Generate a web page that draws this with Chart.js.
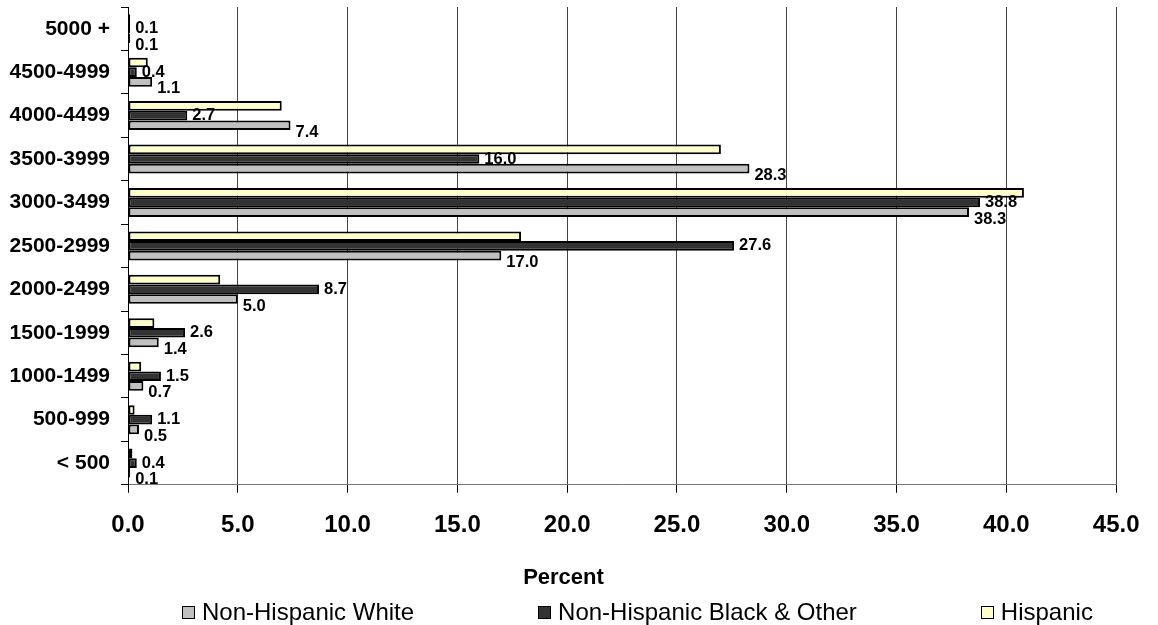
<!DOCTYPE html>
<html>
<head>
<meta charset="utf-8">
<script src="https://cdn.jsdelivr.net/npm/chart.js@4/dist/chart.umd.min.js"></script>
<style>
    body { margin: 0; background: #fff; font-family: 'Liberation Sans', Arial, sans-serif; }
    #wrap { position: relative; width: 1158px; height: 625px; }
    #legend {
        position: absolute; left: 182px; top: 598px;
        display: flex; align-items: center; gap: 124px;
        font-size: 24px; line-height: 28px; color: #000; white-space: nowrap;
    }
    #legend .item { display: flex; align-items: center; }
    #legend .box { width: 11px; height: 11px; border: 1.5px solid #000; margin-right: 7px; }
</style>
</head>
<body>
<div id="wrap">
    <canvas id="chart" width="1158" height="625"></canvas>
    <div id="legend"></div>
</div>
<script>
// --- Data ---
const categories = ['5000 +', '4500-4999', '4000-4499', '3500-3999', '3000-3499', '2500-2999',
                    '2000-2499', '1500-1999', '1000-1499', '500-999', '< 500'];
const whiteValues    = [0.1, 1.1, 7.4, 28.3, 38.3, 17.0, 5.0, 1.4, 0.7, 0.5, 0.1];
const blackValues    = [0.1, 0.4, 2.7, 16.0, 38.8, 27.6, 8.7, 2.6, 1.5, 1.1, 0.4];
const hispanicValues = [0.1, 0.9, 7.0, 27.0, 40.8, 17.9, 4.2, 1.2, 0.6, 0.3, 0.2];
const xTicks = [0, 5, 10, 15, 20, 25, 30, 35, 40, 45];

const FONT = "'Liberation Sans', Arial, sans-serif";

// value labels only for white + black series (like the original)
const barLabels = {
    id: 'barLabels',
    afterDatasetsDraw(chart) {
        const ctx = chart.ctx;
        ctx.save();
        ctx.font = 'bold 16.5px ' + FONT;
        ctx.fillStyle = '#000';
        ctx.textAlign = 'left';
        ctx.textBaseline = 'middle';
        chart.data.datasets.forEach((ds, i) => {
            if (!ds.showLabels) return;
            chart.getDatasetMeta(i).data.forEach((bar, j) => {
                ctx.fillText(ds.data[j].toFixed(1), bar.x + 5, bar.y + ds.labelShift);
            });
        });
        ctx.restore();
    }
};

const chart = new Chart(document.getElementById('chart'), {
    type: 'bar',
    data: {
        labels: categories,
        // order top->bottom inside a group: Hispanic, Black, White
        datasets: [
            { label: 'Hispanic', data: hispanicValues, backgroundColor: '#ffffcc', showLabels: false, labelShift: 0 },
            { label: 'Non-Hispanic Black & Other', data: blackValues, backgroundColor: '#333333', showLabels: true, labelShift: 0 },
            { label: 'Non-Hispanic White', data: whiteValues, backgroundColor: '#c0c0c0', showLabels: true, labelShift: 7 }
        ]
    },
    options: {
        indexAxis: 'y',
        responsive: false,
        animation: false,
        datasets: {
            bar: { borderColor: '#000', borderWidth: 2, borderSkipped: false, categoryPercentage: 0.667, barPercentage: 1.0 }
        },
        layout: { padding: { top: 7, right: 31, bottom: 34, left: 0 } },
        plugins: {
            legend: { display: false },
            tooltip: { enabled: false },
            // "Percent" sits centred on the whole chart, not on the axis
            title: {
                display: true, position: 'bottom', text: 'Percent', color: '#000',
                font: { family: FONT, size: 22, weight: 'bold' },
                padding: { top: 6, bottom: 0 }
            }
        },
        scales: {
            x: {
                min: 0, max: 45,
                afterBuildTicks: (scale) => { scale.ticks = xTicks.map(v => ({ value: v })); },
                ticks: {
                    color: '#000', padding: 18.5,
                    font: { family: FONT, size: 24, weight: 'bold' },
                    callback: (v) => Number(v).toFixed(1)
                },
                grid: { color: '#444', tickColor: '#000', tickLength: 8 },
                border: { color: '#777' }
            },
            y: {
                // fixed axis width, and no extra top/bottom padding from label heights
                afterFit: (scale) => {
                    scale.width = 128;
                    scale.paddingTop = 0;
                    scale.paddingBottom = 0;
                },
                ticks: {
                    color: '#000', padding: 11,
                    font: { family: FONT, size: 21, weight: 'bold' }
                },
                grid: { drawOnChartArea: false, color: '#000', tickLength: 7 },
                border: { color: '#000' }
            }
        }
    },
    plugins: [barLabels]
});

// --- HTML legend (original order: White, Black, Hispanic) ---
const legendEl = document.getElementById('legend');
[...chart.data.datasets].reverse().forEach(ds => {
    const item = document.createElement('div');
    item.className = 'item';
    item.innerHTML = `<span class="box" style="background:${ds.backgroundColor}"></span><span>${ds.label}</span>`;
    legendEl.appendChild(item);
});
</script>
</body>
</html>
